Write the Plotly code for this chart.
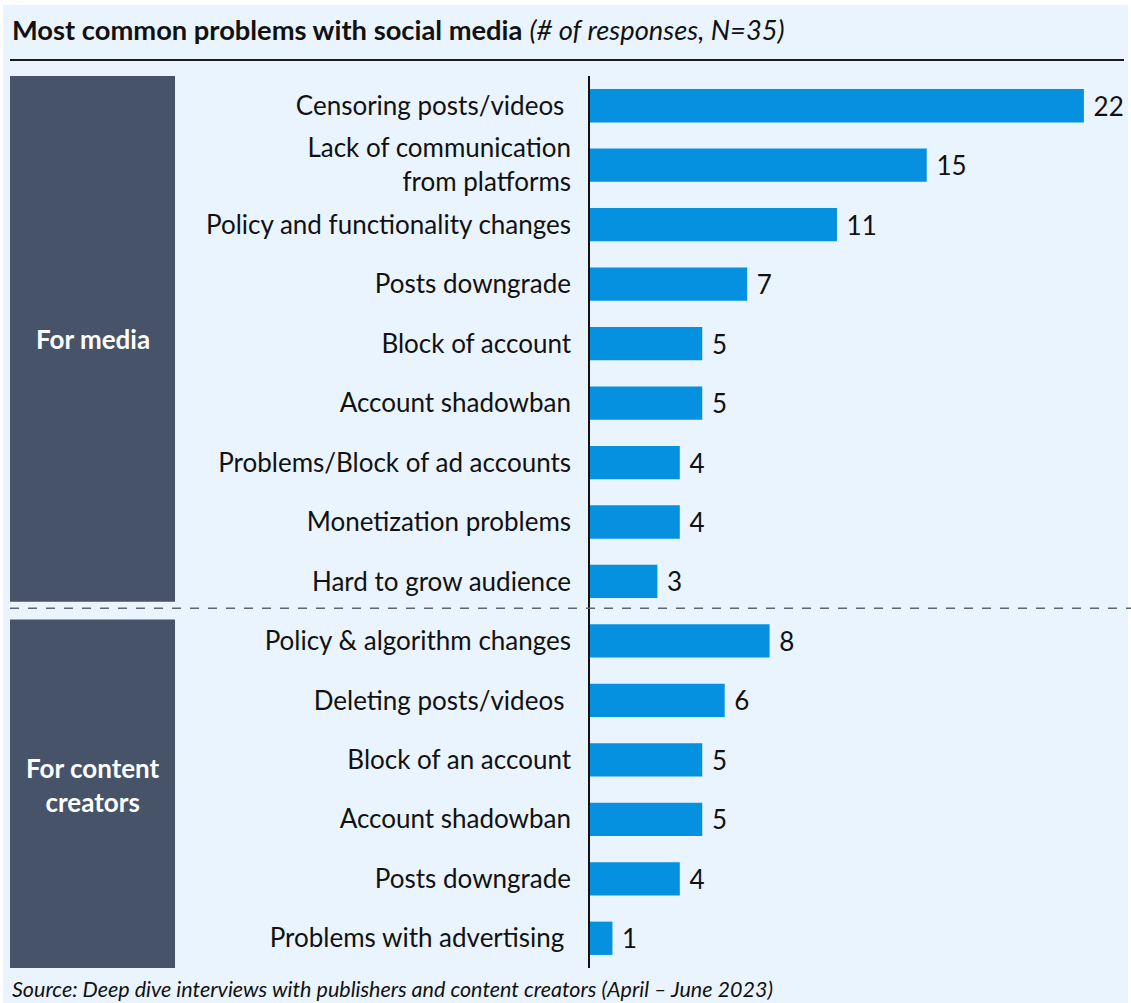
import plotly.graph_objects as go

# Survey responses by group (# of responses, N=35)
media_problems = [
    "Censoring posts/videos\u00a0",
    "Lack of communication<br>from platforms",
    "Policy and functionality changes",
    "Posts downgrade",
    "Block of account",
    "Account shadowban",
    "Problems/Block of ad accounts",
    "Monetization problems",
    "Hard to grow audience",
]
media_counts = [22, 15, 11, 7, 5, 5, 4, 4, 3]

creator_problems = [
    "Policy & algorithm changes",
    "Deleting posts/videos\u00a0",
    "Block of an account",
    "Account shadowban",
    "Posts downgrade",
    "Problems with advertising\u00a0",
]
creator_counts = [8, 6, 5, 5, 4, 1]

group_labels = ["For media", "For content<br>creators"]

W, H = 1131, 1003
FONT = "Lato"
BG = "#EAF4FE"
BAR = "#0690E0"
BOX = "#465369"
INK = "#111111"

labels = media_problems + creator_problems
counts = media_counts + creator_counts
rows = list(range(len(labels)))
n_media = len(media_problems)


def px_x(x):
    return x / W


def px_y(y):
    return 1 - y / H


# plot area in pixels
axis_left, plot_top, plot_bottom = 590, 76, 968
x_max = (W - axis_left) / 22.45

fig = go.Figure(
    go.Bar(
        x=counts,
        y=rows,
        orientation="h",
        marker=dict(color=BAR, line=dict(width=0)),
        width=0.56,
        text=["\u00a0" + str(c) for c in counts],
        textposition="outside",
        textfont=dict(family=FONT, size=26, color=INK),
        cliponaxis=False,
        hoverinfo="skip",
    )
)

shapes = [
    # light panel background
    dict(type="rect", xref="paper", yref="paper", layer="below",
         x0=px_x(3), x1=px_x(1128), y0=0, y1=px_y(5),
         fillcolor=BG, line=dict(width=0)),
    # rule under the title
    dict(type="line", xref="paper", yref="paper",
         x0=px_x(10), x1=px_x(1124), y0=px_y(60), y1=px_y(60),
         line=dict(color="#1a1a1a", width=2)),
    # group boxes
    dict(type="rect", xref="paper", yref="y", layer="below",
         x0=px_x(10), x1=px_x(175), y0=-0.5, y1=n_media - 0.66,
         fillcolor=BOX, line=dict(width=0)),
    dict(type="rect", xref="paper", yref="y", layer="below",
         x0=px_x(10), x1=px_x(175), y0=n_media - 0.36, y1=len(labels) - 0.5,
         fillcolor=BOX, line=dict(width=0)),
    # dashed separator between groups
    dict(type="line", xref="paper", yref="y",
         x0=px_x(10), x1=1, y0=n_media - 0.55, y1=n_media - 0.55,
         line=dict(color="#5A6577", width=1.5, dash="dash")),
]

annotations = [
    dict(xref="paper", yref="paper", x=px_x(10), y=px_y(30),
         xanchor="left", yanchor="middle", showarrow=False,
         text="<b>Most common problems with social media</b> <i>(# of responses, N=35)</i>",
         font=dict(family=FONT, size=27.3, color=INK)),
    dict(xref="paper", yref="y", x=px_x(92.5), y=(n_media - 1) / 2 - 0.07,
         xanchor="center", yanchor="middle", showarrow=False,
         text="<b>" + group_labels[0] + "</b>",
         font=dict(family=FONT, size=26, color="white")),
    dict(xref="paper", yref="y", x=px_x(92.5), y=n_media + (len(creator_problems) - 1) / 2 - 0.08,
         xanchor="center", yanchor="middle", showarrow=False,
         text="<b>" + group_labels[1] + "</b>",
         font=dict(family=FONT, size=26, color="white")),
    dict(xref="paper", yref="paper", x=px_x(10), y=px_y(989),
         xanchor="left", yanchor="middle", showarrow=False,
         text="<i>Source: Deep dive interviews with publishers and content creators (April \u2013 June 2023)</i>",
         font=dict(family=FONT, size=21.5, color=INK)),
]

fig.update_layout(
    width=W, height=H,
    margin=dict(l=0, r=0, t=0, b=0),
    paper_bgcolor="white",
    plot_bgcolor="rgba(0,0,0,0)",
    showlegend=False,
    shapes=shapes,
    annotations=annotations,
    xaxis=dict(domain=[px_x(axis_left), 1], range=[0, x_max],
               visible=False, fixedrange=True),
    yaxis=dict(domain=[px_y(plot_bottom), px_y(plot_top)],
               range=[len(labels) - 0.5, -0.5],
               tickmode="array", tickvals=rows, ticktext=labels,
               tickfont=dict(family=FONT, size=26, color=INK),
               ticks="outside", ticklen=12, tickcolor="rgba(0,0,0,0)",
               showline=True, linecolor=INK, linewidth=1.5,
               showgrid=False, zeroline=False, fixedrange=True),
)

fig.write_html("out.html")
